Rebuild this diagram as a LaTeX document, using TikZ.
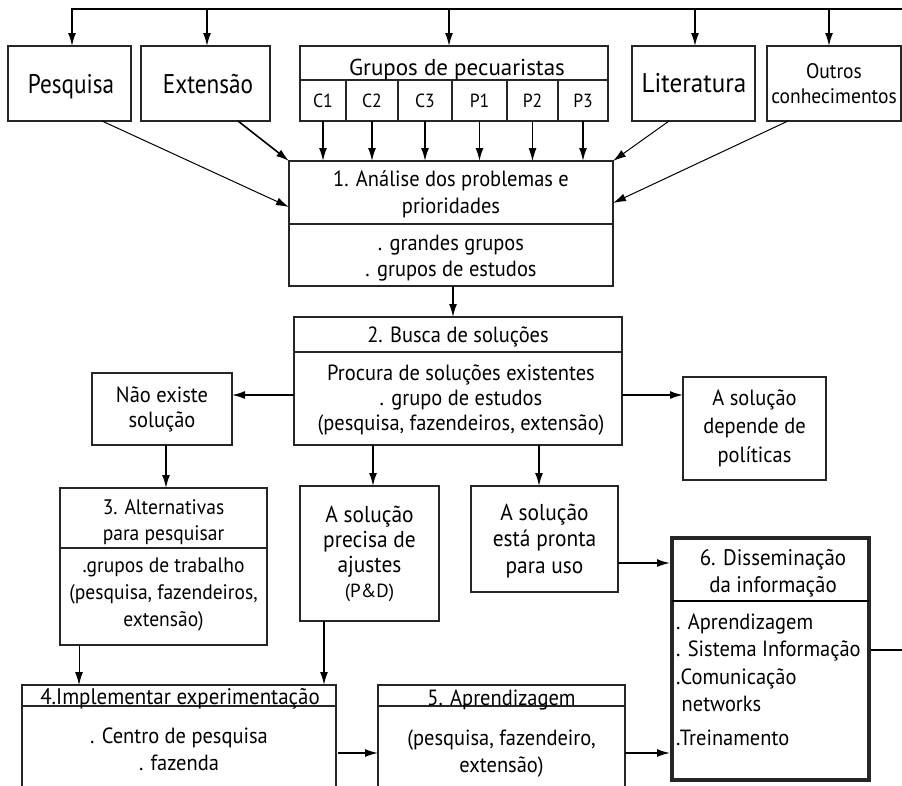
\documentclass[tikz,border=0pt]{standalone}
\usepackage{fontspec}
\setmainfont{PT Sans}[FakeStretch=0.93]
\newfontfamily\condf{PT Sans}[FakeStretch=0.86]
\newfontfamily\widef{PT Sans}
\usetikzlibrary{arrows.meta}
\newcommand\fs[2]{\fontsize{#1}{#2}\selectfont}
\newcommand\mlc[1]{\begin{tabular}[t]{@{}c@{}}#1\end{tabular}}
\newcommand\mll[1]{\begin{tabular}[t]{@{}l@{}}#1\end{tabular}}
\newcommand\bx[6][]{\node[box,#1,minimum width={(#4)-(#2)},minimum height={(#5)-(#3)}] (#6) at ({((#2)+(#4))/2},{((#3)+(#5))/2}) {};}
\tikzset{
  box/.style={draw=black!85, line width=1.1pt, inner sep=0pt, outer sep=0pt, rectangle},
  arr/.style={-{Latex[length=13pt,width=8pt]}, line width=1.6pt},
  tarr/.style={-{Latex[length=13pt,width=8pt]}, line width=1pt},
  plain/.style={line width=1.4pt},
  lbl/.style={inner sep=0pt, anchor=base, font=\fs{22}{26}},
  big/.style={lbl, font=\condf\fs{27}{32}},
  small/.style={lbl, font=\fs{19}{23}},
}
\begin{document}
\begin{tikzpicture}[x=1pt,y=-1pt]
\path[use as bounding box] (0,0) rectangle (902,785);
\clip (0,0) rectangle (902,785);
% boxes
\bx{8}{46}{131}{121}{pesq}
\bx{141}{46}{270}{121}{ext}
\bx{300}{46}{608}{80}{grp}
\bx{300}{80}{346}{121}{c1}
\bx{346}{80}{398}{121}{c2}
\bx{398}{80}{452}{121}{c3}
\bx{452}{80}{507}{121}{p1}
\bx{507}{80}{558}{121}{p2}
\bx{558}{80}{608}{121}{p3}
\bx{632}{46}{755}{121}{lit}
\bx{767}{46}{901}{121}{out}
\bx{289}{161}{613}{224}{b1t}
\bx{289}{224}{613}{286}{b1b}
\bx{294}{317}{622}{352}{b2t}
\bx{294}{352}{622}{445}{b2b}
\bx{92}{373}{232}{445}{nao}
\bx{683}{377}{826}{480}{dep}
\bx{60}{488}{267}{548}{b3t}
\bx{60}{548}{267}{645}{b3b}
\bx{300}{486}{439}{621}{pd}
\bx{471}{486}{618}{592}{pr}
\bx{22}{685}{336}{706}{b4t}
\bx{22}{706}{336}{800}{b4b}
\bx{378}{685}{625}{706}{b5t}
\bx{378}{706}{625}{800}{b5b}
\bx[line width=4pt]{672}{538}{869}{780}{b6}
\coordinate (d6) at (0,601);
\draw[line width=2pt] (b6.west |- d6) -- (b6.east |- d6);
% texts
\node[big] (tpesq) at (71,93) {Pesquisa};
\node[big] (text) at (208,93) {Extensão};
\node[lbl, font=\widef\fs{23}{26}] (tgrp) at (457,75) {Grupos de pecuaristas};
\node[small] (tc1) at (323,107) {C1};
\node[small] (tc2) at (372,107) {C2};
\node[small] (tc3) at (425,107) {C3};
\node[small] (tp1) at (479.5,107) {P1};
\node[small] (tp2) at (532.5,107) {P2};
\node[small] (tp3) at (583,107) {P3};
\node[lbl, font=\fs{27}{32}] (tlit) at (694,92) {Literatura};
\node[lbl, font=\fs{21}{25}] (tout) at (834,78) {\mlc{Outros\\conhecimentos}};
\node[lbl] (tb1t) at (451,186) {1. Análise dos problemas e};
\node[lbl] (tb1u) at (451,213) {prioridades};
\node[lbl] (tb1b) at (451,250) {\mlc{. grandes grupos\\. grupos de estudos}};
\node[lbl] (tb2t) at (458,342) {2. Busca de soluções};
\node[lbl, font=\fs{22}{25}] (tb2b) at (461,380) {\mlc{Procura de soluções existentes\\. grupo de estudos\\(pesquisa, fazendeiros, extensão)}};
\node[lbl, font=\fs{22}{25}] (tnao) at (162,402) {\mlc{Não existe\\solução}};
\node[lbl, font=\fs{22}{28.5}] (tdep) at (754.5,405) {\mlc{A solução\\depende de\\políticas}};
\node[lbl, font=\fs{21}{26}] (tb3t) at (163.5,514) {\mlc{3. Alternativas\\para pesquisar}};
\node[lbl, font=\fs{21}{27}] (tb3b) at (163.5,572) {\mlc{.grupos de trabalho\\(pesquisa, fazendeiros,\\extensão)}};
\node[lbl, font=\fs{23}{25}] (tpd) at (369.5,522) {\mlc{A solução\\precisa de\\ajustes}};
\node[lbl, font=\widef\fs{19}{20}] (tpd2) at (369.5,597) {(P\&D)};
\node[lbl, font=\fs{23}{26.5}] (tpr) at (544.5,520) {\mlc{A solução\\está pronta\\para uso}};
\node[lbl, font=\fs{22.5}{27}] (tb6t) at (773,565) {\mlc{6. Disseminação\\da informação}};
\node[lbl, font=\fs{22}{27.5}, anchor=base west] (tb6b) at (676,629) {\mll{. Aprendizagem\\. Sistema Informação\\.Comunicação\\\ networks\\[6pt].Treinamento}};
\node[lbl, font=\fs{22.5}{26}] (tb4t) at (180,704) {4.Implementar experimentação};
\node[lbl, font=\fs{22}{27}] (tb4b) at (179,743) {\mlc{. Centro de pesquisa\\. fazenda}};
\node[lbl] (tb5t) at (501.5,705) {5. Aprendizagem};
\node[lbl, font=\fs{22}{27}] (tb5b) at (501.5,745) {\mlc{(pesquisa, fazendeiro,\\extensão)}};
% connectors
\coordinate (tl) at (72,9);
\coordinate (tr) at (902,9);
\draw[arr] (tr) -- (tl) -- (tl |- pesq.north);
\draw[arr] ([xshift=1.5pt]ext.north |- tl) -- ([xshift=1.5pt]ext.north);
\draw[arr] ([xshift=-5pt]grp.north |- tl) -- ([xshift=-5pt]grp.north);
\draw[arr] ([xshift=1.5pt]lit.north |- tl) -- ([xshift=1.5pt]lit.north);
\draw[arr] ([xshift=-5pt]out.north |- tl) -- ([xshift=-5pt]out.north);
\foreach \c in {c1,c2,c3,p1,p3} {\draw[arr] (\c.south) -- (\c.south |- b1t.north);}
\draw[tarr] (p2.south) -- (p2.south |- b1t.north);
\draw[tarr] ([xshift=32.5pt]pesq.south) -- ([yshift=-14.5pt]b1t.west);
\draw[arr] ([xshift=32.5pt]ext.south) -- (b1t.north west);
\draw[tarr] ([xshift=-24.5pt]lit.south) -- (b1t.north east);
\draw[tarr] ([xshift=-46pt]out.south) -- ([yshift=-10.5pt]b1t.east);
\draw[arr] ([xshift=2pt]b1b.south) -- ([xshift=2pt]b1b.south |- b2t.north);
\coordinate (k1) at ([yshift=3.5pt]b2b.west);
\draw[arr] (k1) -- (k1 -| nao.east);
\coordinate (k2) at ([yshift=3.5pt]b2b.east);
\draw[arr] (k2) -- (k2 -| dep.west);
\draw[arr] ([xshift=4pt]nao.south) -- ([xshift=4pt]nao.south |- b3t.north);
\draw[arr] ([xshift=3.5pt]pd.north |- b2b.south) -- ([xshift=3.5pt]pd.north);
\draw[arr] ([xshift=-5.5pt]pr.north |- b2b.south) -- ([xshift=-5.5pt]pr.north);
\coordinate (k3) at ([yshift=-24pt]pr.east);
\draw[arr] (k3) -- ([xshift=-2pt]k3 -| b6.west);
\draw[tarr] ([xshift=-84.5pt]b3b.south) -- ([xshift=-84.5pt]b3b.south |- b4t.north);
\draw[arr] ([xshift=-45.5pt]pd.south) -- ([xshift=-45.5pt]pd.south |- b4t.north);
\draw[arr] ([xshift=2pt]b4b.east) -- (b5b.west);
\draw[arr] (b5b.east) -- ([xshift=-2pt]b5b.east -| b6.west);
\coordinate (re) at (902,650);
\draw[plain] ([xshift=2pt]re -| b6.east) -- (re);
\end{tikzpicture}
\end{document}
